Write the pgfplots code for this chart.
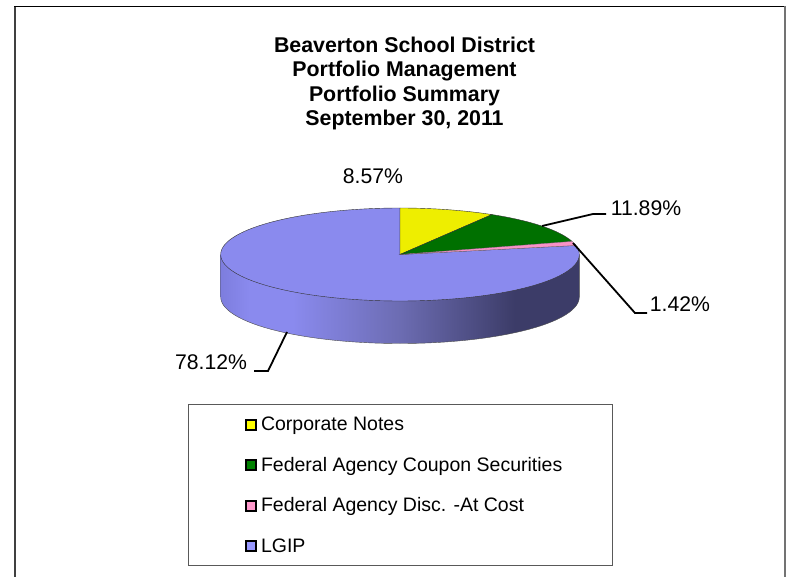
\documentclass[border=0pt]{standalone}
\usepackage{pgfplots}
\usepackage{pgfplotstable}
\usepackage{fontspec}
\setmainfont{Liberation Sans}
\pgfplotsset{compat=1.18}

% Portfolio shares, in per cent, clockwise from twelve o'clock
\pgfplotstableread{
share
8.57
11.89
1.42
78.12
}\sharetable

\definecolor{pieyellow}{RGB}{238,238,0}
\definecolor{piegreen}{RGB}{0,112,0}
\definecolor{piepink}{RGB}{248,146,198}
\definecolor{pieblue}{RGB}{138,138,238}
\definecolor{keyyellow}{RGB}{255,255,0}
\definecolor{keygreen}{RGB}{0,128,0}
\definecolor{keypink}{RGB}{255,153,204}
\definecolor{keyblue}{RGB}{153,153,255}
\definecolor{rimedge}{RGB}{125,125,222}
\definecolor{rimmid}{RGB}{108,108,178}
\definecolor{rimdark}{RGB}{60,60,104}

% Shaded rim of the disc: light on the left, dark on the right
\pgfdeclarehorizontalshading{pieside}{100bp}{
  color(0bp)=(rimedge);
  color(25bp)=(rimedge);
  color(29bp)=(pieblue);
  color(35bp)=(pieblue);
  color(50bp)=(rimmid);
  color(66bp)=(rimdark);
  color(100bp)=(rimdark)}

% Disc geometry in picture units
\def\cx{400}\def\cy{254.5}\def\rx{179.3}\def\ry{46.5}\def\depth{42.5}

\pgfplotstablegetelem{0}{share}\of\sharetable\let\shareA\pgfplotsretval
\pgfplotstablegetelem{1}{share}\of\sharetable\let\shareB\pgfplotsretval
\pgfplotstablegetelem{2}{share}\of\sharetable\let\shareC\pgfplotsretval
\pgfplotstablegetelem{3}{share}\of\sharetable\let\shareD\pgfplotsretval
\pgfmathsetmacro\angA{3.6*\shareA}
\pgfmathsetmacro\angB{\angA+3.6*\shareB}
\pgfmathsetmacro\angC{\angB+3.6*\shareC}
\pgfmathsetmacro\angD{\angC+3.6*\shareD}

\pgfplotsset{keyimage/.style={
  legend image code/.code={%
    \path (-14.3pt,0pt) (7.5pt,0pt);
    \draw[line width=2pt,draw=black,fill=#1] (-5pt,-6pt) rectangle (4.8pt,4.1pt);}}}

\begin{document}
\begin{tikzpicture}
\path[use as bounding box] (0,0) rectangle (792pt,577pt);
\begin{axis}[
  at={(0,0)}, anchor=south west,
  scale only axis, width=792pt, height=577pt,
  xmin=0, xmax=792, ymin=0, ymax=577, y dir=reverse,
  axis lines=none, clip=false,
  legend cell align=left,
  legend style={
    at={(axis cs:188,403.7)}, anchor=north west,
    draw=black!65, line width=0.8pt,
    inner xsep=48pt, inner ysep=10.7pt,
    row sep=22.5pt, column sep=0pt,
    font=\fontsize{19.5}{22}\selectfont,
    nodes={text height=16pt, text depth=2pt, inner xsep=2pt, inner ysep=0pt},
  },
]
% Frame
\addplot[forget plot, no markers, line width=1.8pt, draw=black!75] coordinates {(15,577) (15,6.5)};
\addplot[forget plot, no markers, line width=1.8pt, draw=black] coordinates {(14,6.5) (785,6.5)};
\addplot[forget plot, no markers, line width=1.8pt, draw=black!55] coordinates {(785,6) (785,577)};

% Rim of the disc
\addplot[forget plot, no markers, draw=black!70, line width=0.4pt, shading=pieside, shading angle=0,
  domain=90:270, samples=91, variable=\t]
  ({\cx+\rx*sin(\t)},{\cy+\depth-\ry*cos(\t)}) -- (axis cs:{\cx-\rx},\cy) -- (axis cs:{\cx+\rx},\cy) -- cycle;

% Top face, one wedge per share
\addplot[forget plot, no markers, draw=black!80, line width=0.4pt, fill=pieblue, domain=\angC:\angD, samples=181, variable=\t]
  ({\cx+\rx*sin(\t)},{\cy-\ry*cos(\t)}) -- (axis cs:\cx,\cy) -- cycle;
\addplot[forget plot, no markers, draw=black!80, line width=0.4pt, fill=pieyellow, domain=0:\angA, samples=25, variable=\t]
  ({\cx+\rx*sin(\t)},{\cy-\ry*cos(\t)}) -- (axis cs:\cx,\cy) -- cycle;
\addplot[forget plot, no markers, draw=black!80, line width=0.4pt, fill=piegreen, domain=\angA:\angB, samples=25, variable=\t]
  ({\cx+\rx*sin(\t)},{\cy-\ry*cos(\t)}) -- (axis cs:\cx,\cy) -- cycle;
\addplot[forget plot, no markers, draw=black!60, line width=0.25pt, fill=piepink, domain=\angB:\angC, samples=9, variable=\t]
  ({\cx+\rx*sin(\t)},{\cy-\ry*cos(\t)}) -- (axis cs:\cx,\cy) -- cycle;

% Leader lines
\addplot[forget plot, no markers, line width=1.8pt] coordinates {(542,226) (593,214) (606,214)};
\addplot[forget plot, no markers, line width=1.8pt] coordinates {(573,243) (635,313) (647,313)};
\addplot[forget plot, no markers, line width=1.8pt] coordinates {(287,332) (268,371) (254,371)};

% Legend
\addlegendimage{keyimage=keyyellow}\addlegendentry{Corporate Notes}
\addlegendimage{keyimage=keygreen}\addlegendentry{Federal Agency Coupon Securities}
\addlegendimage{keyimage=keypink}\addlegendentry{Federal Agency Disc. -At Cost}
\addlegendimage{keyimage=keyblue}\addlegendentry{LGIP}

% Title and value labels
\node[align=center, font=\fontsize{21.35}{24.4}\selectfont\bfseries] at (axis cs:404.5,83.5)
  {Beaverton School District\\Portfolio Management\\Portfolio Summary\\September 30, 2011};
\node[font=\fontsize{21.2}{24}\selectfont] at (axis cs:373,176) {\shareA\%};
\node[font=\fontsize{21.2}{24}\selectfont] at (axis cs:646,208) {\shareB\%};
\node[font=\fontsize{21.2}{24}\selectfont] at (axis cs:680,304) {\shareC\%};
\node[font=\fontsize{21.2}{24}\selectfont] at (axis cs:211,362) {\shareD\%};
\end{axis}
\end{tikzpicture}
\end{document}
